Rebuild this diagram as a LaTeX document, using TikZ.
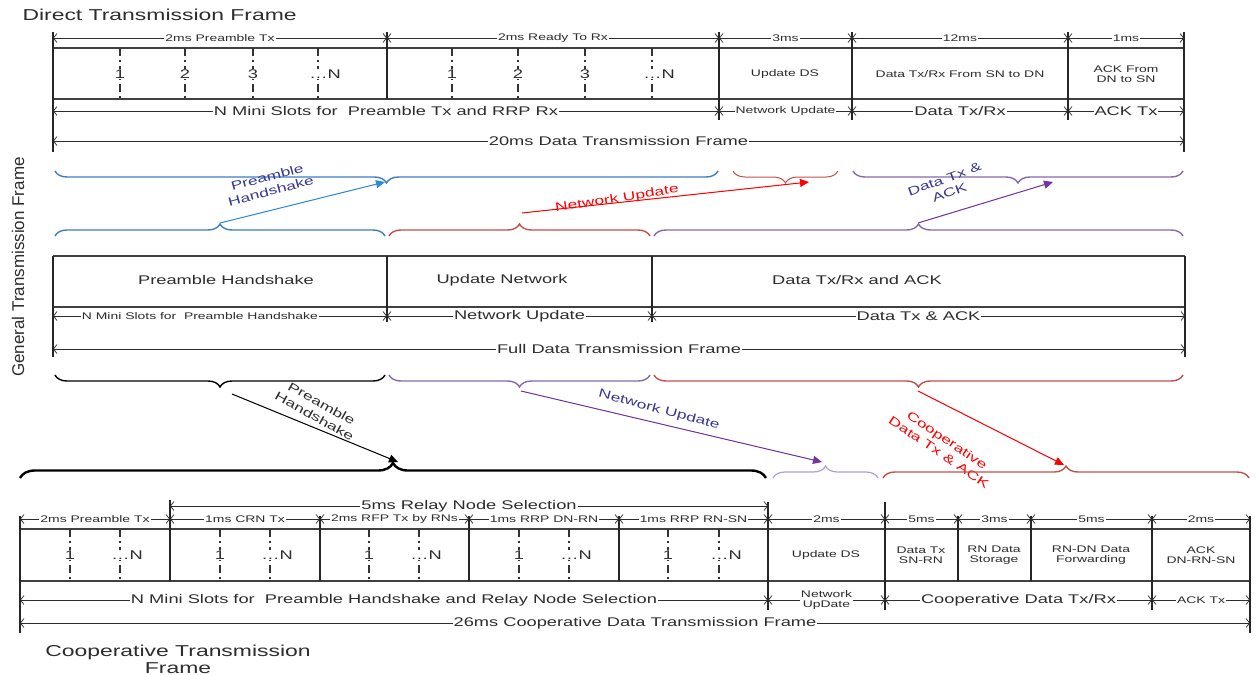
\documentclass[tikz,border=0pt]{standalone}
\usepackage{fontspec}
\setmainfont{Liberation Sans}[FakeStretch=1.45]
\newfontfamily\plainsans{Liberation Sans}
\usetikzlibrary{arrows.meta,decorations.pathreplacing}
\definecolor{txt}{RGB}{45,45,45}
\definecolor{bbrace}{RGB}{60,125,195}
\definecolor{barrow}{RGB}{40,140,215}
\definecolor{lblue}{RGB}{55,55,150}
\definecolor{rbrace}{RGB}{195,80,75}
\definecolor{pbrace}{RGB}{135,105,170}
\definecolor{parrow}{RGB}{115,50,165}
\definecolor{lpbrace}{RGB}{175,160,205}
\begin{document}
\begin{tikzpicture}[x=1pt,y=-1pt,
  sm/.style={font=\fontsize{9.6}{10.5}\selectfont, text=txt, fill=white, inner sep=1pt, align=center},
  md/.style={font=\fontsize{12.6}{13.5}\selectfont, text=txt, fill=white, inner sep=1pt, align=center},
  ttl/.style={font=\fontsize{15.8}{17}\selectfont, text=txt, align=center},
  lab/.style={font=\fontsize{12}{14.5}\selectfont, align=center, inner sep=0pt},
  boxline/.style={line width=1.3pt, draw=black!75},
  vline/.style={line width=1.3pt, draw=black!85},
  slot/.style={line width=1.1pt, draw=black!80, dash pattern=on 8pt off 4pt on 2pt off 4pt},
  dim/.style={line width=0.75pt, draw=txt, {Straight Barb[length=3.5pt,width=9pt,line width=0.75pt]}-{Straight Barb[length=3.5pt,width=9pt,line width=0.75pt]}},
  brup/.style={decorate, decoration={brace, amplitude=12pt, mirror}, line width=1.4pt},
  brdn/.style={decorate, decoration={brace, amplitude=12pt}, line width=1.4pt},
  tip/.style={-{Triangle[length=9pt,width=8pt]}, line width=1pt}
]
\useasboundingbox (0,0) rectangle (1259,675);

% ================= Direct Transmission Frame =================
\node[ttl, anchor=west] (t1) at (19,15) {Direct Transmission Frame};
\foreach \n/\x in {0/53,1/387,2/719,3/852,4/1068,5/1184}{
  \coordinate (ta\n) at (\x,38);
  \coordinate (tb\n) at (\x,111);
}
\coordinate (tc0) at (53,141); \coordinate (tc5) at (1184,141);
\draw[boxline] (53,48) -- (1184,48) (53,99) -- (1184,99);
\foreach \x in {120,185,253,318,452,518,585,652} \draw[slot] (\x,48) -- (\x,99);
\draw[vline] (53,32) -- (53,152);
\draw[vline] (387,32) -- (387,99);
\draw[vline] (719,32) -- (719,120);
\draw[vline] (852,32) -- (852,120);
\draw[vline] (1068,32) -- (1068,120);
\draw[vline] (1184,32) -- (1184,152);
\foreach \n/\x/\t in {a/120/1,b/185/2,c/253/3,d/452/1,e/518/2,f/585/3}
  \node[md] (ts\n) at (\x,74) {\t};
\node[md] (tsN1) at (325,74) {…N};
\node[md] (tsN2) at (659,74) {…N};
\draw[dim] (ta0) -- node[sm]{2ms Preamble Tx} (ta1);
\draw[dim] (ta1) -- node[sm]{2ms Ready To Rx} (ta2);
\draw[dim] (ta2) -- node[sm]{3ms} (ta3);
\draw[dim] (ta3) -- node[sm]{12ms} (ta4);
\draw[dim] (ta4) -- node[sm]{1ms} (ta5);
\draw[dim] (tb0) -- node[md]{N Mini Slots for\ \ Preamble Tx and RRP Rx} (tb2);
\draw[dim] (tb2) -- node[sm]{Network Update} (tb3);
\draw[dim] (tb3) -- node[md]{Data Tx/Rx} (tb4);
\draw[dim] (tb4) -- node[md]{ACK Tx} (tb5);
\draw[dim] (tc0) -- node[md]{20ms Data Transmission Frame} (tc5);
\node[sm] (uds) at (785,74) {Update DS};
\node[sm] (dtx) at (960,74) {Data Tx/Rx From SN to DN};
\node[sm] (ackf) at (1126,74) {ACK From\\DN to SN};

% ================= General Transmission Frame =================
\node[rotate=90, font=\plainsans\fontsize{17}{19}\selectfont, text=txt] (gtf) at (18,267) {General Transmission Frame};
% upper braces
\draw[brup, draw=bbrace] (55,171) -- (718,171);
\draw[brup, draw=rbrace, line width=1pt] (733,171) -- (838,171);
\draw[brup, draw=pbrace] (853,171) -- (1183,171);
% lower braces
\draw[brdn, draw=bbrace] (55,236) -- (385,236);
\draw[brdn, draw=rbrace] (389,236) -- (650,236);
\draw[brdn, draw=pbrace] (654,236) -- (1183,236);
\coordinate (pl1) at (220,223); \coordinate (pu1) at (385,182);
\coordinate (nl1) at (522,213); \coordinate (nu1) at (809,182);
\coordinate (dl1) at (918,223); \coordinate (du1) at (1053,182);
\draw[tip, draw=barrow, fill=barrow] (pl1) -- (pu1);
\draw[tip, draw=red, fill=red] (nl1) -- (nu1);
\draw[tip, draw=parrow, fill=parrow] (dl1) -- (du1);
\node[lab, text=lblue, rotate=15] (lph) at (269,184) {Preamble\\Handshake};
\node[lab, text=red, rotate=9] (lnu) at (617,199) {Network Update};
\node[lab, text=lblue, rotate=20] (ldt) at (947,186) {Data Tx \&\\ACK};

% box
\draw[boxline] (53,256) -- (1185,256) (53,307) -- (1185,307);
\draw[vline] (53,256) -- (53,357);
\draw[vline] (387,256) -- (387,322);
\draw[vline] (652,256) -- (652,322);
\draw[vline] (1185,256) -- (1185,357);
\node[md] (gph) at (226,280) {Preamble Handshake};
\node[md] (gun) at (502,280) {Update Network};
\node[md] (gda) at (857,280) {Data Tx/Rx and ACK};
\foreach \n/\x in {0/53,1/387,2/652,3/1185} \coordinate (gm\n) at (\x,316);
\coordinate (gf0) at (53,349); \coordinate (gf3) at (1185,349);
\draw[dim] (gm0) -- node[sm, pos=0.44]{N Mini Slots for\ \ Preamble Handshake} (gm1);
\draw[dim] (gm1) -- node[md]{Network Update} (gm2);
\draw[dim] (gm2) -- node[md]{Data Tx \& ACK} (gm3);
\draw[dim] (gf0) -- node[md]{Full Data Transmission Frame} (gf3);

% braces under box
\draw[brup, draw=black] (55,375) -- (385,375);
\draw[brup, draw=pbrace] (389,375) -- (650,375);
\draw[brup, draw=rbrace] (654,375) -- (1183,375);
\coordinate (ph2) at (232,394); \coordinate (ph3) at (398,462);
\coordinate (nu2) at (521,391); \coordinate (nu3) at (822,462);
\coordinate (cd2) at (918,391); \coordinate (cd3) at (1064,465);
\draw[tip, draw=black, fill=black] (ph2) -- (ph3);
\draw[tip, draw=parrow, fill=parrow] (nu2) -- (nu3);
\draw[tip, draw=red, fill=red] (cd2) -- (cd3);
\node[lab, text=txt, rotate=-29] (lph2) at (318,410) {Preamble\\Handshake};
\node[lab, text=lblue, rotate=-15] (lnu2) at (659,410) {Network Update};
\node[lab, text=red, rotate=-34] (lcd2) at (943,446) {Cooperative\\Data Tx \& ACK};

% bottom braces
\draw[brdn, draw=black, line width=2.4pt, decoration={amplitude=15pt}] (20,478) -- (766,478);
\draw[brdn, draw=lpbrace, line width=1.2pt] (773,478) -- (878,478);
\draw[brdn, draw=rbrace] (883,478) -- (1249,478);

% ================= Cooperative Transmission Frame =================
\foreach \n/\x in {0/20,1/170,2/320,3/469,4/619,5/768,6/885,7/958,8/1031,9/1152,10/1250}{
  \coordinate (ca\n) at (\x,519);
  \coordinate (cb\n) at (\x,600);
}
\coordinate (cr1) at (170,506); \coordinate (cr5) at (768,506);
\coordinate (cc0) at (20,623); \coordinate (cc10) at (1250,623);
\draw[boxline] (20,529) -- (1250,529) (20,581) -- (1250,581);
\foreach \x in {70,120,220,270,369,419,519,569,668,719} \draw[slot] (\x,529) -- (\x,581);
\draw[vline] (20,516) -- (20,633);
\draw[vline] (170,500) -- (170,581);
\foreach \x in {320,469,619,958,1031} \draw[vline] (\x,516) -- (\x,581);
\draw[vline] (768,502) -- (768,610);
\draw[vline] (885,502) -- (885,610);
\draw[vline] (1152,516) -- (1152,610);
\draw[vline] (1250,516) -- (1250,633);
\foreach \n/\x in {a/70,b/220,c/369,d/519,e/668} \node[md] (c1\n) at (\x,555) {1};
\foreach \n/\x in {a/120,b/270,c/419,d/569,e/719} \node[md] (cN\n) at (\x+7,555) {…N};
\draw[dim] (cr1) -- node[md]{5ms Relay Node Selection} (cr5);
\draw[dim] (ca0) -- node[sm]{2ms Preamble Tx} (ca1);
\draw[dim] (ca1) -- node[sm]{1ms CRN Tx} (ca2);
\draw[dim] (ca2) -- node[sm]{2ms RFP Tx by RNs} (ca3);
\draw[dim] (ca3) -- node[sm]{1ms RRP DN-RN} (ca4);
\draw[dim] (ca4) -- node[sm]{1ms RRP RN-SN} (ca5);
\draw[dim] (ca5) -- node[sm]{2ms} (ca6);
\draw[dim] (ca6) -- node[sm]{5ms} (ca7);
\draw[dim] (ca7) -- node[sm]{3ms} (ca8);
\draw[dim] (ca8) -- node[sm]{5ms} (ca9);
\draw[dim] (ca9) -- node[sm]{2ms} (ca10);
\node[sm] (cuds) at (826,555) {Update DS};
\node[sm] (cdtx) at (921,555) {Data Tx\\SN-RN};
\node[sm] (crnd) at (994,555) {RN Data\\Storage};
\node[sm] (crdf) at (1091,555) {RN-DN Data\\Forwarding};
\node[sm] (cack) at (1201,555) {ACK\\DN-RN-SN};
\draw[dim] (cb0) -- node[md]{N Mini Slots for\ \ Preamble Handshake and Relay Node Selection} (cb5);
\draw[dim] (cb5) -- node[sm]{Network\\UpDate} (cb6);
\draw[dim] (cb6) -- node[md]{Cooperative Data Tx/Rx} (cb9);
\draw[dim] (cb9) -- node[sm]{ACK Tx} (cb10);
\draw[dim] (cc0) -- node[md]{26ms Cooperative Data Transmission Frame} (cc10);
\node[ttl] (t3) at (178,659) {Cooperative Transmission\\Frame};
\end{tikzpicture}
\end{document}
